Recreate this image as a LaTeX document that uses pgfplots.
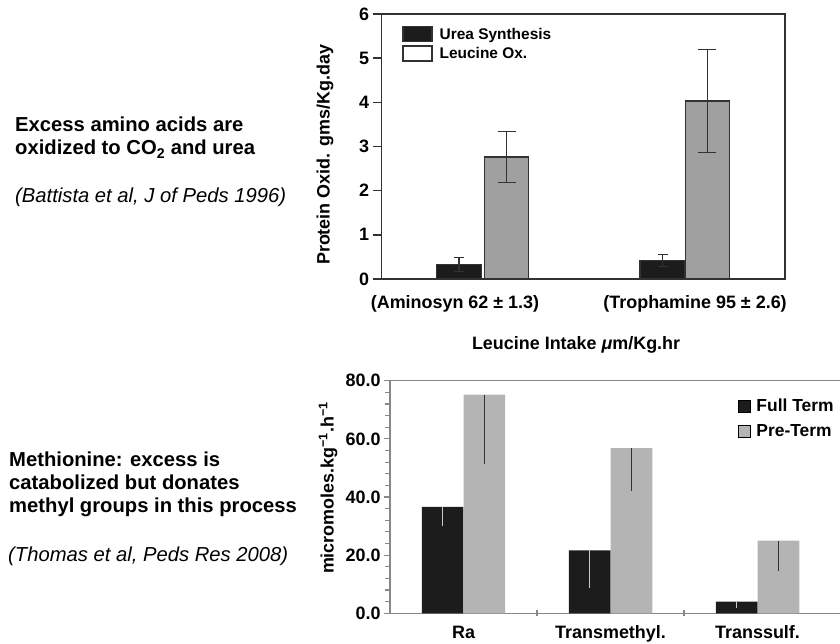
\documentclass[border=0pt]{standalone}
\usepackage{fontspec}
\setmainfont{Liberation Sans}
\usepackage{pgfplots}
\pgfplotsset{compat=1.18}

\definecolor{barblack}{RGB}{28,28,28}
\definecolor{bargray}{RGB}{160,160,160}
\definecolor{edge}{RGB}{50,50,50}
\definecolor{ptgray}{RGB}{180,180,180}
\definecolor{axgray}{RGB}{135,135,135}

\newcommand{\bigtxt}{\fontsize{20.3}{24}\selectfont}
\newcommand{\lbl}{\fontsize{18}{21}\selectfont\bfseries}

\begin{document}
\begin{tikzpicture}[x=1bp,y=1bp]
\useasboundingbox (0,0) rectangle (840,644);

% left side text
\node[anchor=base west, inner sep=0, font=\bigtxt\bfseries] at (15,512.3) {Excess amino acids are};
\node[anchor=base west, inner sep=0, font=\bigtxt\bfseries] at (15,489) {oxidized to CO\textsubscript{2} and urea};
\node[anchor=base west, inner sep=0, font=\bigtxt\itshape] at (15,441) {(Battista et al, J of Peds 1996)};

\node[anchor=base west, inner sep=0, font=\bigtxt\bfseries] at (9,177.3) {Methionine: excess is};
\node[anchor=base west, inner sep=0, font=\bigtxt\bfseries] at (9,154) {catabolized but donates};
\node[anchor=base west, inner sep=0, font=\bigtxt\bfseries] at (9,131.3) {methyl groups in this process};
\node[anchor=base west, inner sep=0, font=\bigtxt\itshape] at (8,82.3) {(Thomas et al, Peds Res 2008)};

% top chart
\begin{axis}[
    at={(381.7bp,365bp)}, anchor=south west,
    scale only axis, width=403.3bp, height=265bp,
    xmin=-0.5, xmax=1.5, ymin=0, ymax=6,
    ytick={0,...,6}, ytick pos=left,
    xtick={-0.1365,1.054},
    xticklabels={(Aminosyn 62 ± 1.3),(Trophamine 95 ± 2.6)},
    x tick style={draw=none},
    x tick label style={yshift=-4bp},
    tick align=outside, major tick length=9bp,
    axis line style={edge, line width=1.5bp},
    tick style={edge, line width=1.5bp},
    ticklabel style={font=\lbl},
    /pgf/number format/assume math mode=true,
    ylabel={Protein Oxid. gms/Kg.day},
    ylabel style={font=\lbl, at={(axis description cs:-0.1406,0.468)}, anchor=center},
    xlabel={Leucine Intake \textit{μ}m/Kg.hr},
    xlabel style={font=\lbl, at={(axis description cs:0.482,-0.266)}, anchor=base},
    legend style={at={(axis description cs:0.051,0.955)}, anchor=north west,
      draw=none, fill=none, inner sep=0pt, row sep=3bp,
      nodes={inner xsep=1bp, inner ysep=1.5bp},
      /tikz/every odd column/.append style={column sep=6bp},
      font=\fontsize{15.5}{18}\selectfont\bfseries},
    legend cell align=left,
    legend image code/.code={\draw[#1] (0bp,-7.5bp) rectangle (29bp,7.5bp);},
  ]
  \addlegendimage{fill=barblack, draw=edge, line width=1.2bp}
  \addlegendentry{Urea Synthesis}
  \addlegendimage{fill=white, draw=edge, line width=1.2bp}
  \addlegendentry{Leucine Ox.}

  % Urea synthesis
  \addplot[ybar, bar width=45bp, bar shift=0pt, fill=barblack, draw=edge,
    line width=1.2bp, forget plot,
    error bars/.cd, y dir=both, y explicit,
    error bar style={edge, line width=1.5bp},
    error mark options={rotate=90, mark size=5bp, edge, line width=1.5bp}]
    table[x=x, y=y, y error=e] {
    x y e
    -0.1157 0.33 0.16
    0.8925 0.42 0.14
  };
  % Leucine oxidation
  \addplot[ybar, bar width=44bp, bar shift=0pt, fill=bargray, draw=edge,
    line width=1.2bp, forget plot,
    error bars/.cd, y dir=both, y explicit,
    error bar style={edge, line width=1.5bp},
    error mark options={rotate=90, mark size=9bp, edge, line width=1.5bp}]
    table[x=x, y=y, y error=e] {
    x y e
    0.1199 2.76 0.58
    1.115 4.03 1.17
  };
\end{axis}

% bottom chart
\begin{axis}[
    at={(390bp,30.7bp)}, anchor=south west,
    scale only axis, width=450bp, height=232.6bp,
    xmin=-0.5, xmax=2.561, ymin=0, ymax=80,
    axis x line*=box, axis y line*=left,
    xtick={0,1,2}, xticklabels={Ra,Transmethyl.,Transsulf.},
    xtick pos=bottom, x tick style={draw=none},
    x tick label style={yshift=-3bp},
    extra x ticks={0.5,1.5}, extra x tick labels={},
    extra x tick style={x tick style={draw=axgray}, major tick length=6bp, tick align=center},
    ytick={0,20,...,80}, minor y tick num=4, ytick pos=left,
    tick align=outside, major tick length=6bp, minor tick length=5bp,
    axis line style={axgray, line width=1.3bp},
    tick style={axgray, line width=1.1bp},
    ticklabel style={font=\lbl},
    /pgf/number format/assume math mode=true,
    y tick label style={/pgf/number format/.cd, fixed, fixed zerofill, precision=1},
    ylabel={micromoles.kg\textsuperscript{−1}.h\textsuperscript{−1}},
    ylabel style={font=\lbl, at={(axis description cs:-0.1378,0.539)}, anchor=center},
    legend style={at={(axis description cs:0.773,0.93)}, anchor=north west,
      draw=none, fill=none, inner sep=0pt, row sep=7bp,
      nodes={inner xsep=1bp, inner ysep=2bp},
      /tikz/every odd column/.append style={column sep=5bp},
      font=\fontsize{17.5}{20}\selectfont\bfseries},
    legend cell align=left,
    legend image code/.code={\fill[#1] (0bp,-6bp) rectangle (12bp,6bp);},
  ]
  \addlegendimage{fill=barblack}
  \addlegendentry{Full Term}
  \addlegendimage{fill=ptgray}
  \addlegendentry{Pre-Term}

  % Full term
  \addplot[ybar, bar width=41.7bp, bar shift=0pt, fill=barblack, draw=none, forget plot,
    error bars/.cd, y dir=minus, y explicit,
    error bar style={ptgray!70!white, line width=1.3bp}, error mark=none]
    table[x=x, y=y, y error=e] {
    x y e
    -0.142 36.6 6.5
    0.858 21.6 13.0
    1.858 4.0 2.3
  };
  % Pre-term
  \addplot[ybar, bar width=41.7bp, bar shift=0pt, fill=ptgray, draw=none, forget plot,
    error bars/.cd, y dir=minus, y explicit,
    error bar style={edge, line width=1.3bp}, error mark=none]
    table[x=x, y=y, y error=e] {
    x y e
    0.142 75.2 23.9
    1.142 56.8 14.6
    2.142 25.0 10.3
  };
\end{axis}
\end{tikzpicture}
\end{document}
